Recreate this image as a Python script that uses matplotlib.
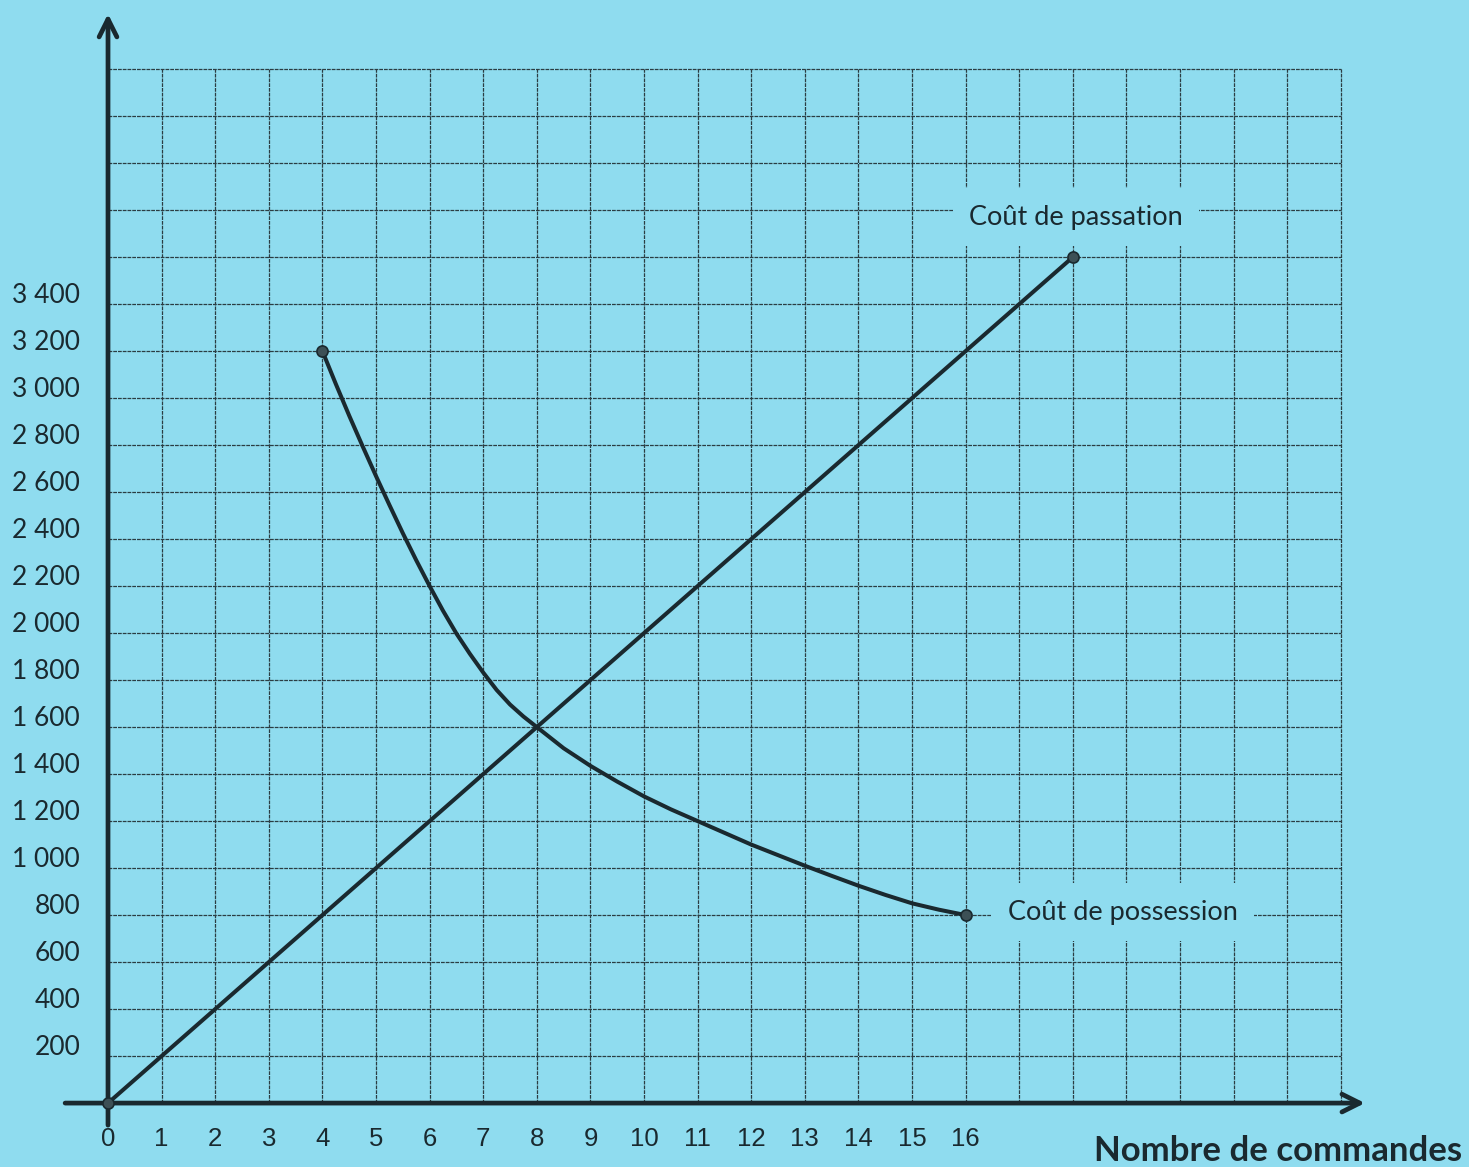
import matplotlib.pyplot as plt

# ---------------------------------------------------
# Data
# ---------------------------------------------------

x_ticks = list(range(0, 17))
y_ticks = [200, 400, 600, 800, 1000, 1200, 1400, 1600, 1800, 2000,
           2200, 2400, 2600, 2800, 3000, 3200, 3400]
y_tick_labels = ["200", "400", "600", "800", "1 000", "1 200", "1 400",
                 "1 600", "1 800", "2 000", "2 200", "2 400", "2 600",
                 "2 800", "3 000", "3 200", "3 400"]

# Coût de passation (straight line)
passation_x = [0, 18]
passation_y = [0, 3600]

# Coût de possession (hand drawn curve, read every quarter / half unit)
possession_x = [4, 4.25, 4.5, 4.75, 5, 5.25, 5.5, 5.75, 6, 6.25, 6.5,
                6.75, 7, 7.25, 7.5, 7.75, 8, 8.5, 9, 9.5, 10, 10.5, 11,
                11.5, 12, 12.5, 13, 13.5, 14, 14.5, 15, 15.5, 16]
possession_y = [3200, 3060, 2925, 2795, 2668, 2545, 2425, 2310, 2200, 2095,
                1998, 1912, 1832, 1758, 1696, 1645, 1600, 1510, 1435, 1368,
                1305, 1250, 1200, 1150, 1100, 1055, 1010, 967, 925, 886,
                850, 823, 800]

grid_x = list(range(0, 24))
grid_y = list(range(200, 4401, 200))

# ---------------------------------------------------
# Style
# ---------------------------------------------------

bg = "#8fdcef"
ink = "#1a292f"
grid_col = "#2b3d43"

fig = plt.figure(figsize=(14.69, 11.67), dpi=100)
fig.patch.set_facecolor(bg)
ax = fig.add_axes([0, 0, 1, 1])
ax.set_facecolor(bg)
ax.set_xlim(-2.015, 25.39)
ax.set_ylim(-272, 4694)
ax.axis("off")

# ---------------------------------------------------
# Grid (printed, slightly broken lines)
# ---------------------------------------------------

ax.vlines(grid_x, 0, 4400, color=grid_col, lw=0.9, zorder=1,
          linestyles=[(0, (3, 0.8))])
ax.hlines(grid_y, 0, 23, color=grid_col, lw=0.9, zorder=1,
          linestyles=[(0, (3, 0.8))])

# ---------------------------------------------------
# Axes with arrows
# ---------------------------------------------------

ax.annotate("", xy=(0, 4635), xytext=(0, -94),
            arrowprops=dict(arrowstyle="->", lw=3.4, color=ink,
                            mutation_scale=32, shrinkA=0, shrinkB=0),
            zorder=5)
ax.annotate("", xy=(23.45, 0), xytext=(-0.8, 0),
            arrowprops=dict(arrowstyle="->", lw=3.4, color=ink,
                            mutation_scale=32, shrinkA=0, shrinkB=0),
            zorder=5)

# ---------------------------------------------------
# Curves
# ---------------------------------------------------

ax.plot(passation_x, passation_y, color=ink, lw=2.9, zorder=4,
        solid_capstyle="round")
ax.plot(possession_x, possession_y, color=ink, lw=2.9, zorder=4,
        solid_capstyle="round", solid_joinstyle="round")

ends_x = [passation_x[0], passation_x[-1], possession_x[0], possession_x[-1]]
ends_y = [passation_y[0], passation_y[-1], possession_y[0], possession_y[-1]]
ax.plot(ends_x, ends_y, "o", ms=8, color="#3d5056", mec=ink, mew=1.2,
        zorder=6)

# ---------------------------------------------------
# Labels
# ---------------------------------------------------

for x in x_ticks:
    ax.text(x, -152, str(x), ha="center", va="center", fontsize=18.5,
            family="Liberation Sans", color=ink)

for y, lab in zip(y_ticks, y_tick_labels):
    ax.text(-0.52, y + 35, lab, ha="right", va="center", fontsize=19,
            family="Lato", color=ink)

box = dict(boxstyle="square,pad=0.6", facecolor=bg, edgecolor="none")
ax.text(18.06, 3770, "Coût de passation", ha="center", va="center",
        fontsize=19.5, family="Lato", color=ink, bbox=box, zorder=3)
ax.text(18.94, 813, "Coût de possession", ha="center", va="center",
        fontsize=19.5, family="Lato", color=ink, bbox=box, zorder=3)

ax.text(21.83, -205, "Nombre de commandes", ha="center", va="center",
        fontsize=25, family="Lato", fontweight="bold", color=ink)

fig.savefig("out.png", dpi=100, facecolor=bg)
